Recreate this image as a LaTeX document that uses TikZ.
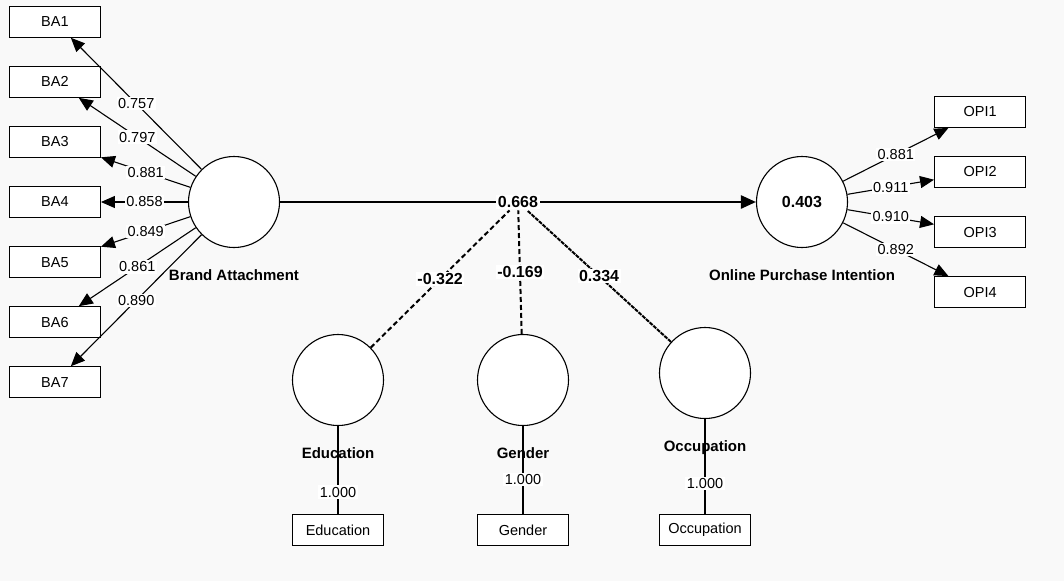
\documentclass[tikz,border=0pt]{standalone}
\usepackage{fontspec}
\setsansfont{Liberation Sans}
\usetikzlibrary{positioning, arrows.meta}
\definecolor{pagegray}{RGB}{249, 249, 249}

\begin{document}
\begin{tikzpicture}[
    x=1pt, y=-1pt, % pixel units, y grows downwards
    node distance=28pt, % gap between stacked indicator boxes
    latent/.style={ % construct circles
        circle,
        draw=black,
        line width=1.1pt,
        fill=white,
        minimum size=91pt,
        inner sep=0pt,
        font=\sffamily\bfseries\fontsize{16}{18}\selectfont
    },
    indicator/.style={ % indicator boxes
        rectangle,
        draw=black,
        line width=1.1pt,
        fill=white,
        minimum width=91pt,
        minimum height=31pt,
        inner sep=0pt,
        font=\sffamily\fontsize{14.5}{16}\selectfont
    },
    lvname/.style={font=\sffamily\bfseries\fontsize{15}{17}\selectfont, inner sep=0pt},
    loading/.style={fill=white, inner sep=1.5pt, font=\sffamily\fontsize{14.5}{16}\selectfont},
    coef/.style={fill=white, inner sep=1.5pt, font=\sffamily\bfseries\fontsize{16}{18}\selectfont},
    % connector styles
    outarrow/.style={-{Triangle[length=14pt, width=12pt]}, line width=1.1pt},
    structural/.style={-{Triangle[length=15pt, width=13pt]}, line width=2.4pt},
    moddash/.style={line width=2pt, dash pattern=on 5pt off 3pt},
    moddense/.style={line width=2pt, dash pattern=on 4pt off 1pt},
    single/.style={line width=1.1pt}
]

% Page background
\path[use as bounding box, fill=pagegray] (0,0) rectangle (1064,581);

% Constructs
\node[latent, label={[lvname, label distance=21pt]below:Brand Attachment}] (ba) at (234,202) {};
\node[latent, label={[lvname, label distance=21pt]below:Online Purchase Intention}] (opi) at (802,202) {0.403};
\node[latent, label={[lvname, label distance=21pt]below:Education}] (edu) at (338,380) {};
\node[latent, label={[lvname, label distance=21pt]below:Gender}] (gen) at (523,380) {};
\node[latent, label={[lvname, label distance=21pt]below:Occupation}] (occ) at (705,373) {};

% Brand attachment indicators
\node[indicator] (ba4) [left=87pt of ba] {BA4};
\node[indicator] (ba3) [above=of ba4] {BA3};
\node[indicator] (ba2) [above=of ba3] {BA2};
\node[indicator] (ba1) [above=of ba2] {BA1};
\node[indicator] (ba5) [below=of ba4] {BA5};
\node[indicator] (ba6) [below=of ba5] {BA6};
\node[indicator] (ba7) [below=of ba6] {BA7};

% Purchase intention indicators
\node[indicator, anchor=south west] (opi2) at ([shift={(86pt,14pt)}]opi.east) {OPI2};
\node[indicator] (opi1) [above=of opi2] {OPI1};
\node[indicator] (opi3) [below=of opi2] {OPI3};
\node[indicator] (opi4) [below=of opi3] {OPI4};

% Single-item indicators
\node[indicator] (eduitem) [below=88pt of edu] {Education};
\node[indicator] (genitem) [below=88pt of gen] {Gender};
\node[indicator] (occitem) [below=95pt of occ] {Occupation};

% Outer loadings
\draw[outarrow] (ba) -- node[loading] {0.757} (ba1);
\draw[outarrow] (ba) -- node[loading] {0.797} (ba2);
\draw[outarrow] (ba) -- node[loading] {0.881} (ba3);
\draw[outarrow] (ba) -- node[loading] {0.858} (ba4);
\draw[outarrow] (ba) -- node[loading] {0.849} (ba5);
\draw[outarrow] (ba) -- node[loading] {0.861} (ba6);
\draw[outarrow] (ba) -- node[loading] {0.890} (ba7);

\draw[outarrow] (opi) -- node[loading] {0.881} (opi1);
\draw[outarrow] (opi) -- node[loading] {0.911} (opi2);
\draw[outarrow] (opi) -- node[loading] {0.910} (opi3);
\draw[outarrow] (opi) -- node[loading] {0.892} (opi4);

\draw[single] (edu) -- node[loading, pos=0.75] {1.000} (eduitem);
\draw[single] (gen) -- node[loading, pos=0.61] {1.000} (genitem);
\draw[single] (occ) -- node[loading, pos=0.68] {1.000} (occitem);

% Structural path and moderating effects
\draw[structural] (ba) -- node[coef] (effect) {0.668} (opi);
\draw[moddash] (edu) -- node[coef] {-0.322} (effect);
\draw[moddash] (gen) -- node[coef] {-0.169} (effect);
\draw[moddense] (occ) -- node[coef] {0.334} (effect);

\end{tikzpicture}
\end{document}
